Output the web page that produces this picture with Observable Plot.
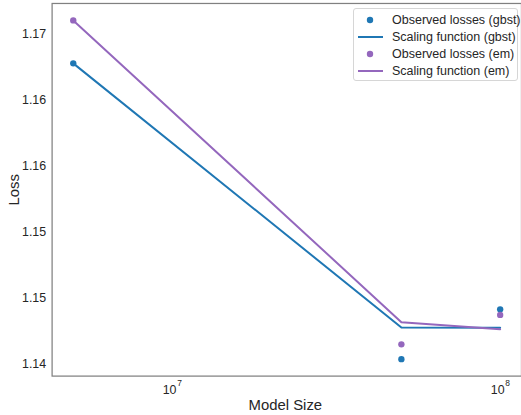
<!DOCTYPE html>
<html><head><meta charset="utf-8">
<script src="https://cdn.jsdelivr.net/npm/d3@7"></script>
<script src="https://cdn.jsdelivr.net/npm/@observablehq/plot@0.6"></script>
<style>
html,body{margin:0;padding:0;background:#fff;overflow:hidden;}
#wrap{position:relative;width:521px;height:415px;overflow:hidden;}
#wrap svg{display:block;}
.legend{position:absolute;left:353px;top:8px;width:163px;height:71px;border:1px solid #d6d6d6;border-radius:3px;background:rgba(255,255,255,0.85);font-family:"Liberation Sans",Arial,sans-serif;font-size:12.5px;color:#262626;}
.row{position:absolute;left:0;height:17px;display:flex;align-items:center;white-space:nowrap;}
.row svg{margin-left:4px;margin-right:8px;}
</style></head><body><div id="wrap"></div>
<script>
const modelSizes = [5e6, 5e7, 1e8];
const observedGbst = [1.16275, 1.14038, 1.14415];
const fittedGbst = [1.16275, 1.14278, 1.14276];
const observedEm = [1.16600, 1.14150, 1.14373];
const fittedEm = [1.16600, 1.14318, 1.14265];
const xTicks = [1e7, 1e8];
const yTicks = [1.140, 1.145, 1.150, 1.155, 1.160, 1.165];
const yTickLabels = ["1.14", "1.15", "1.15", "1.16", "1.16", "1.17"];
const colorGbst = "#1f77b4";
const colorEm = "#9467bd";

const gbst = modelSizes.map((s, i) => ({size: s, obs: observedGbst[i], fit: fittedGbst[i]}));
const em = modelSizes.map((s, i) => ({size: s, obs: observedEm[i], fit: fittedEm[i]}));

const font = '"Liberation Sans", Arial, sans-serif';
const chart = Plot.plot({
  width: 525, height: 415,
  marginLeft: 52, marginRight: 0, marginTop: 3, marginBottom: 36.5,
  x: {type: "log", domain: [10 ** 6.6345, 10 ** 8.065], axis: null},
  y: {domain: [1.1391, 1.16728]},
  style: {fontFamily: font, color: "#262626", background: "white", overflow: "visible"},
  marks: [
    Plot.axisY(yTicks, {tickSize: 0, tickPadding: 6, fontSize: 12.5, label: null,
      tickFormat: d => yTickLabels[yTicks.findIndex(t => Math.abs(t - d) < 1e-9)]}),
    Plot.text(xTicks, {x: d => d, frameAnchor: "bottom", lineAnchor: "bottom", text: () => "10", dx: -2.5, dy: 18.5, fontSize: 12.5}),
    Plot.text(xTicks, {x: d => d, frameAnchor: "bottom", lineAnchor: "bottom", text: d => String(Math.round(Math.log10(d))), dx: 7.5, dy: 9.5, fontSize: 8.5}),
    Plot.text(["Loss"], {frameAnchor: "left", textAnchor: "middle", text: d => d, rotate: -90, dx: -38, fontSize: 15}),
    Plot.text(["Model Size"], {frameAnchor: "bottom", lineAnchor: "bottom", text: d => d, dy: 34.5, dx: -1.5, fontSize: 15}),
    Plot.dot(gbst, {x: "size", y: "obs", fill: colorGbst, r: 3.2}),
    Plot.line(gbst, {x: "size", y: "fit", stroke: colorGbst, strokeWidth: 2}),
    Plot.dot(em, {x: "size", y: "obs", fill: colorEm, r: 3.2}),
    Plot.line(em, {x: "size", y: "fit", stroke: colorEm, strokeWidth: 2}),
    Plot.frame({stroke: "#808080", strokeWidth: 1.25})
  ]
});
const wrap = document.getElementById("wrap");
wrap.appendChild(chart);

const legendItems = [
  {label: "Observed losses (gbst)", color: colorGbst, kind: "dot"},
  {label: "Scaling function (gbst)", color: colorGbst, kind: "line"},
  {label: "Observed losses (em)", color: colorEm, kind: "dot"},
  {label: "Scaling function (em)", color: colorEm, kind: "line"}
];
const legend = document.createElement("div");
legend.className = "legend";
legendItems.forEach((it, i) => {
  const row = document.createElement("div");
  row.className = "row";
  row.style.top = (2 + i * 17.2) + "px";
  const sw = it.kind === "dot"
    ? `<svg width="26" height="12"><circle cx="12" cy="6" r="3.2" fill="${it.color}"/></svg>`
    : `<svg width="26" height="12"><line x1="0" x2="25" y1="6" y2="6" stroke="${it.color}" stroke-width="2"/></svg>`;
  row.innerHTML = sw + `<span>${it.label}</span>`;
  legend.appendChild(row);
});
wrap.appendChild(legend);
</script>
</body></html>
